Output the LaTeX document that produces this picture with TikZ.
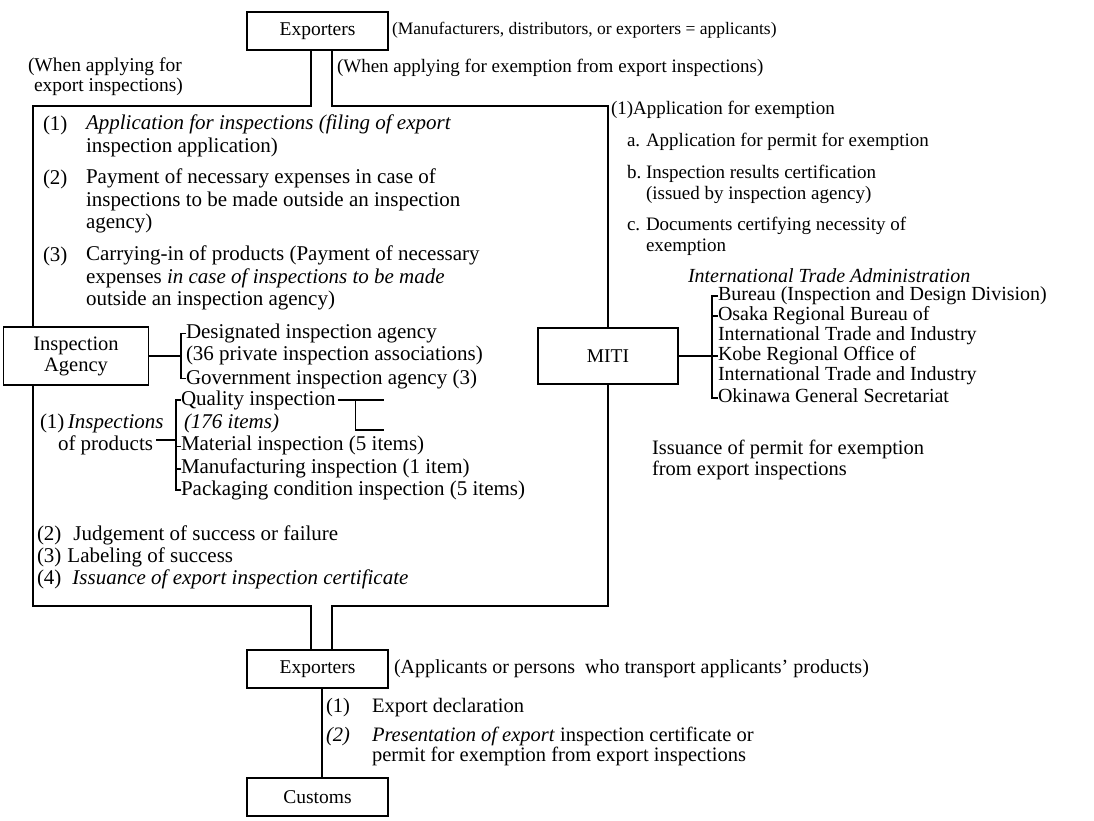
\documentclass[tikz,border=0pt]{standalone}
\usepackage{fontspec}
\setmainfont{Liberation Serif}
\newcommand{\dfont}{\fontsize{21}{22.5}\selectfont}
\newcommand{\rfont}{\fontsize{20}{20}\selectfont}
\newcommand{\afont}{\fontsize{19}{21}\selectfont}
\begin{document}
\begin{tikzpicture}[x=1pt,y=-1pt,
  ln/.style={line width=1.5pt},
  txt/.style={anchor=north west,inner sep=0pt,outer sep=0pt,align=left,font=\dfont,execute at begin node=\strut},
  rtxt/.style={txt,font=\rfont},
  atxt/.style={txt,font=\afont},
  box/.style={draw,line width=1.5pt,fill=white,inner sep=0pt,align=center,font=\fontsize{19.5}{21}\selectfont,minimum width=141pt,minimum height=38pt}]
\useasboundingbox[fill=white] (0,0) rectangle (1094,820);

% ---- top ----
\node[box] (exp1) at (317.5,31) {Exporters};
\node[txt,font=\fontsize{17.5}{20}\selectfont] (manu) at (392,20) {(Manufacturers, distributors, or exporters = applicants)};
\node[txt,font=\fontsize{19.5}{20}\selectfont] (whenL) at (28,58) {(When applying for\\\hspace*{6pt}export inspections)};
\node[txt,font=\fontsize{19}{20}\selectfont] (whenR) at (337,58) {(When applying for exemption from export inspections)};
\node[box] (exp2) at (317.5,669) {Exporters};
\node[box] (cus) at (317.5,797) {Customs};

% ---- frame ----
\coordinate (fTL) at (33,106); \coordinate (fTR) at (608,106);
\coordinate (fBL) at (33,606); \coordinate (fBR) at (608,606);
\coordinate (dL) at (311,106); \coordinate (dR) at (332,106);
\coordinate (eL) at (311,606); \coordinate (eR) at (332,606);
\coordinate (vx) at (322,700);
\draw[ln] (exp1.south -| dL) -- (dL) -- (fTL) -- (fBL) -- (eL) -- (exp2.north -| eL);
\draw[ln] (exp1.south -| dR) -- (dR) -- (fTR) -- (fBR) -- (eR) -- (exp2.north -| eR);
\draw[ln] (exp2.south -| vx) -- (cus.north -| vx);

% ---- left block ----
\node[txt] (l1) at (43,115) {(1)};
\node[txt] (t1) at (86,115) {\textit{Application for inspections (filing of export}\\inspection application)};
\node[txt] (l2) at (43,169) {(2)};
\node[txt] (t2) at (86,169) {Payment of necessary expenses in case of\\inspections to be made outside an inspection\\agency)};
\node[txt] (l3) at (43,246) {(3)};
\node[txt] (t3) at (86,246) {Carrying-in of products (Payment of necessary\\expenses \textit{in case of inspections to be made}\\outside an inspection agency)};

\node[box,minimum width=145pt,minimum height=58pt,font=\fontsize{20.5}{21}\selectfont] (ia) at (76,356) {Inspection\\Agency};
\node[txt] (des) at (186,323.5) {Designated inspection agency\\(36 private inspection associations)};
\node[txt] (gov) at (186,368.5) {Government inspection agency (3)};
\coordinate (ibT) at (181,333.5); \coordinate (ibM) at (181,356); \coordinate (ibB) at (181,378.5);
\draw[ln] (ia.east) -- (ibM);
\draw[ln] (ibT -| des.west) -- (ibT) -- (ibB) -- (ibB -| gov.west);

\node[txt] (pi1) at (40,412.5) {(1)\,\textit{Inspections}};
\node[txt] (pi2) at (58,435) {of products};
\node[txt] (q) at (181,390) {Quality inspection};
\node[txt] (q2) at (184,412.5) {\textit{(176 items)}};
\node[txt] (mat) at (181,435) {Material inspection (5 items)};
\node[txt] (man) at (181,457.5) {Manufacturing inspection (1 item)};
\node[txt] (pkg) at (181,480) {Packaging condition inspection (5 items)};
\coordinate (pbT) at (176,400); \coordinate (pbC) at (176,440); \coordinate (pbB) at (176,490);
\draw[ln] (pbT -| q.west) -- (pbT) -- (pbB) -- (pbB -| pkg.west);
\draw[ln] (mat.west) -- (mat.west -| pbT);
\draw[ln] (man.west) -- (man.west -| pbT);
\draw[ln] ([xshift=3pt]pi2.east |- pbC) -- (pbC);
\path (q.east |- pbT) ++(20,0) coordinate (sbT) ++(0,30) coordinate (sbB);
\draw[ln] ([xshift=2pt]q.east |- sbT) -- (sbT) -- ++(28,0);
\draw[ln] (sbT) -- (sbB) -- ++(28,0);

\node[txt] (j2) at (37,525) {(2)\hspace{12pt}Judgement of success or failure};
\node[txt] (j3) at (37,547) {(3)\hspace{6pt}Labeling of success};
\node[txt] (j4) at (37,569) {(4)\hspace{11pt}\textit{Issuance of export inspection certificate}};

% ---- right block ----
\node[atxt] (app) at (611,100) {(1)Application for exemption};
\node[atxt] (ra) at (627,132) {\makebox[19pt][l]{a.}Application for permit for exemption};
\node[atxt] (rb) at (627,165) {\makebox[19pt][l]{b.}Inspection results certification\\\hspace*{19pt}(issued by inspection agency)};
\node[atxt] (rc) at (627,217) {\makebox[19pt][l]{c.}Documents certifying necessity of\\\hspace*{19pt}exemption};
\node[rtxt] (ita) at (688,268) {\textit{International Trade Administration}};
\node[rtxt] (bur) at (718,286) {Bureau (Inspection and Design Division)};
\node[rtxt] (osa) at (718,306) {Osaka Regional Bureau of\\International Trade and Industry};
\node[rtxt] (kob) at (718,346) {Kobe Regional Office of\\International Trade and Industry};
\node[rtxt] (oki) at (718,388) {Okinawa General Secretariat};
\node[box,minimum width=140pt,minimum height=56pt] (miti) at (608,356) {MITI};
\coordinate (mbT) at (712,296); \coordinate (mbO) at (712,316);
\coordinate (mbM) at (712,356); \coordinate (mbB) at (712,398);
\draw[ln] (mbT -| bur.west) -- (mbT) -- (mbB) -- (mbB -| oki.west);
\draw[ln] (mbO) -- (mbO -| osa.west);
\draw[ln] (miti.east) -- (mbM) -- (mbM -| kob.west);
\node[txt,font=\fontsize{20.5}{21}\selectfont] (iss) at (652,440) {Issuance of permit for exemption\\from export inspections};

% ---- bottom ----
\node[txt,font=\fontsize{20}{21}\selectfont] (appl) at (394,659) {(Applicants or persons\ \ who transport applicants' products)};
\node[txt,font=\fontsize{20.5}{21}\selectfont] (b1) at (326,698) {(1)};
\node[txt,font=\fontsize{20.5}{21}\selectfont] (bt1) at (372,698) {Export declaration};
\node[txt,font=\fontsize{20.5}{21}\selectfont] (b2) at (326,727) {\textit{(2)}};
\node[txt,font=\fontsize{20.5}{20}\selectfont] (bt2) at (372,727) {\textit{Presentation of export} inspection certificate or\\permit for exemption from export inspections};
\end{tikzpicture}
\end{document}
